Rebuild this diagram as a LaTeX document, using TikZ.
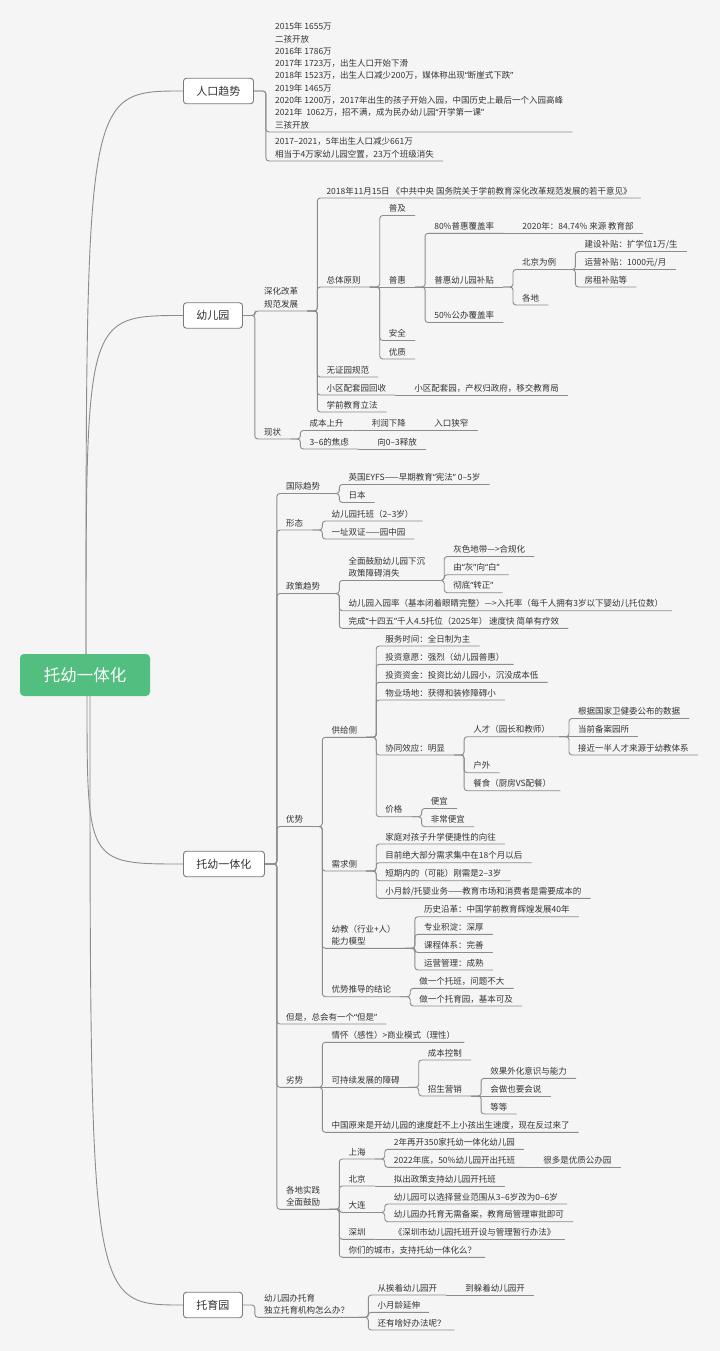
\documentclass[tikz,border=0pt]{standalone}
\usepackage{fontspec}
\setmainfont{Noto Sans CJK SC}
\newfontfamily\mmlatin{Noto Sans}
\definecolor{bg}{HTML}{F5F5F5}
\definecolor{ln}{HTML}{8C8C8C}
\definecolor{txt}{HTML}{333333}
\definecolor{bd}{HTML}{7A7A7A}
\definecolor{rootg}{HTML}{52BE80}
\newcommand\mmfont{\fontsize{8.5}{12.3}\selectfont}
\newcommand\mmql{{\mmlatin “}}
\newcommand\mmqr{{\mmlatin ”}}
\newcommand\mmkid[4]{\node[t,xshift=10pt] (#2) at (#1.south east |- 0,#3) {#4};
  \draw[conn] (#1.south east) -- ++(10,0) |- (#2.south east);}
\newcommand\mmcont[3]{\node[t,xshift=10pt] (#2) at (#1.south east) {#3};
  \draw[conn] (#1.south east) -- (#2.south east);}
\newcommand\mmboxkid[4]{\node[t,xshift=12pt] (#2) at (#1.east |- 0,#3) {#4};
  \draw[conn] (#1.east) -- ++(12,0) |- (#2.south east);}
\begin{document}
\begin{tikzpicture}[x=1pt,y=-1pt,
  t/.style={anchor=south west, inner xsep=9pt, inner ysep=0pt, font=\mmfont, text=txt,
    align=left, execute at begin node=\strut, execute at end node=\strut},
  conn/.style={draw=ln, line width=0.9pt, rounded corners=3pt},
  curve/.style={draw=ln, line width=0.9pt},
  mainbox/.style={anchor=west, draw=bd, fill=white, line width=0.9pt, rounded corners=3pt,
    inner xsep=13pt, minimum height=25.5pt, font=\fontsize{11}{13}\selectfont, text=txt},
  rootbox/.style={fill=rootg, rounded corners=4pt, minimum width=130pt, minimum height=42pt,
    font=\fontsize{16.5}{18}\selectfont, text=white}]
\useasboundingbox (0,0) rectangle (720,1351);
\fill[bg] (0,0) rectangle (720,1351);

% root and main branches
\node[rootbox] (root) at (85,675) {托幼一体化};
\node[mainbox] (P1) at (183,91) {人口趋势};
\node[mainbox] (P2) at (183,315.5) {幼儿园};
\node[mainbox] (P3) at (183,864) {托幼一体化};
\node[mainbox] (P4) at (183,1305) {托育园};
\coordinate (rt1) at ([xshift=1pt]root.north);
\coordinate (rb1) at ([xshift=2pt]root.south);
\coordinate (rb2) at ([xshift=5pt]root.south);
\draw[curve] (rt1) .. controls (rt1 |- P1.west) .. (P1.west);
\draw[curve] (rt1) .. controls (rt1 |- P2.west) .. (P2.west);
\draw[curve] (rb1) .. controls (rb1 |- P3.west) .. (P3.west);
\draw[curve] (rb2) .. controls (rb2 |- P4.west) .. (P4.west);

% ---------- 人口趋势
\mmboxkid{P1}{a1}{132}{2015年 1655万\\二孩开放\\2016年 1786万\\2017年 1723万，出生人口开始下滑\\2018年 1523万，出生人口减少200万，媒体称出现\mmql{}断崖式下跌\mmqr\\2019年 1465万\\2020年 1200万，2017年出生的孩子开始入园，中国历史上最后一个入园高峰\\2021年\ \ 1062万，招不满，成为民办幼儿园\mmql{}开学第一课\mmqr\\三孩开放}
\mmboxkid{P1}{a2}{161}{2017–2021，5年出生人口减少661万\\相当于4万家幼儿园空置，23万个班级消失}

% ---------- 幼儿园
\mmboxkid{P2}{b1}{311}{深化改革\\规范发展}
\mmboxkid{P2}{b2}{439}{现状}
\mmkid{b1}{c1}{198}{2018年11月15日 《中共中央 国务院关于学前教育深化改革规范发展的若干意见》}
\mmkid{b1}{c2}{287}{总体原则}
\mmkid{b1}{c3}{377}{无证园规范}
\mmkid{b1}{c4}{395}{小区配套园回收}
\mmkid{b1}{c5}{412}{学前教育立法}
\mmcont{c4}{c4a}{小区配套园，产权归政府，移交教育局}
\mmkid{c2}{d1}{215.5}{普及}
\mmcont{c2}{d2}{普惠}
\mmkid{c2}{d3}{340.5}{安全}
\mmkid{c2}{d4}{359}{优质}
\mmkid{d2}{e1}{233.3}{80\%普惠覆盖率}
\mmcont{d2}{e2}{普惠幼儿园补贴}
\mmkid{d2}{e3}{322.5}{50\%公办覆盖率}
\mmcont{e1}{f1}{2020年：84.74\% 来源 教育部}
\mmkid{e2}{f2}{269.5}{北京为例}
\mmkid{e2}{f3}{305}{各地}
\mmkid{f2}{g1}{251.5}{建设补贴：扩学位1万/生}
\mmcont{f2}{g2}{运营补贴：1000元/月}
\mmkid{f2}{g3}{287}{房租补贴等}
\mmkid{b2}{h1}{430.5}{成本上升}
\mmkid{b2}{h2}{449}{3–6的焦虑}
\mmcont{h1}{h1a}{利润下降}
\mmcont{h1a}{h1b}{入口狭窄}
\mmcont{h2}{h2a}{向0–3释放}

% ---------- 托幼一体化
\mmboxkid{P3}{i1}{493.5}{国际趋势}
\mmboxkid{P3}{i2}{530}{形态}
\mmboxkid{P3}{i3}{593.5}{政策趋势}
\mmboxkid{P3}{i4}{826.5}{优势}
\mmboxkid{P3}{i5}{1024}{但是，总会有一个\mmql{}但是\mmqr}
\mmboxkid{P3}{i6}{1087.3}{劣势}
\mmboxkid{P3}{i7}{1209.3}{各地实践\\全面鼓励}
\mmkid{i1}{i1a}{484.5}{英国EYFS——早期教育\mmql{}宪法\mmqr{} 0–5岁}
\mmkid{i1}{i1b}{502.5}{日本}
\mmkid{i2}{i2a}{521}{幼儿园托班（2–3岁）}
\mmkid{i2}{i2b}{539}{一址双证——园中园}
\mmkid{i3}{i3a}{580.5}{全面鼓励幼儿园下沉\\政策障碍消失}
\mmkid{i3}{i3b}{610.7}{幼儿园入园率（基本闭着眼睛完整）—>入托率（每千人拥有3岁以下婴幼儿托位数）}
\mmkid{i3}{i3c}{628.3}{完成\mmql{}十四五\mmqr{}千人4.5托位（2025年） 速度快 简单有疗效}
\mmkid{i3a}{i3a1}{556.5}{灰色地带—>合规化}
\mmkid{i3a}{i3a2}{574.7}{由\mmql{}灰\mmqr{}向\mmql{}白\mmqr}
\mmkid{i3a}{i3a3}{592.7}{彻底\mmql{}转正\mmqr}
% 优势
\mmkid{i4}{j1}{737.3}{供给侧}
\mmkid{i4}{j2}{871}{需求侧}
\mmkid{i4}{j3}{948.3}{幼教（行业+人）\\能力模型}
\mmkid{i4}{j4}{996.7}{优势推导的结论}
\mmkid{j1}{k1}{646}{服务时间：全日制为主}
\mmkid{j1}{k2}{664.3}{投资意愿：强烈（幼儿园普惠）}
\mmkid{j1}{k3}{682.3}{投资资金：投资比幼儿园小，沉没成本低}
\mmkid{j1}{k4}{700}{物业场地：获得和装修障碍小}
\mmkid{j1}{k5}{755}{协同效应：明显}
\mmkid{j1}{k6}{816.7}{价格}
\mmkid{k5}{l1}{736.7}{人才（园长和教师）}
\mmkid{k5}{l2}{772.7}{户外}
\mmkid{k5}{l3}{790.7}{餐食（厨房VS配餐）}
\mmkid{l1}{m1}{718.5}{根据国家卫健委公布的数据}
\mmcont{l1}{m2}{当前备案园所}
\mmkid{l1}{m3}{755}{接近一半人才来源于幼教体系}
\mmkid{k6}{n1}{808.5}{便宜}
\mmkid{k6}{n2}{826.7}{非常便宜}
\mmkid{j2}{p1}{844}{家庭对孩子升学便捷性的向往}
\mmkid{j2}{p2}{862.7}{目前绝大部分需求集中在18个月以后}
\mmkid{j2}{p3}{880.7}{短期内的（可能）刚需是2–3岁}
\mmkid{j2}{p4}{898.3}{小月龄/托婴业务——教育市场和消费者是需要成本的}
\mmkid{j3}{w1}{916.7}{历史沿革：中国学前教育辉煌发展40年}
\mmkid{j3}{w2}{934.3}{专业积淀：深厚}
\mmkid{j3}{w3}{952.5}{课程体系：完善}
\mmkid{j3}{w4}{970}{运营管理：成熟}
\mmkid{j4}{x1}{988.3}{做一个托班，问题不大}
\mmkid{j4}{x2}{1006}{做一个托育园，基本可及}
% 劣势
\mmkid{i6}{q1}{1042.3}{情怀（感性）>商业模式（理性）}
\mmcont{i6}{q2}{可持续发展的障碍}
\mmkid{i6}{q3}{1132.3}{中国原来是开幼儿园的速度赶不上小孩出生速度，现在反过来了}
\mmkid{q2}{r1}{1060}{成本控制}
\mmkid{q2}{r2}{1096}{招生营销}
\mmkid{r2}{s1}{1078.3}{效果外化意识与能力}
\mmcont{r2}{s2}{会做也要会说}
\mmkid{r2}{s3}{1114}{等等}
% 各地实践
\mmkid{i7}{u1}{1159}{上海}
\mmkid{i7}{u2}{1186}{北京}
\mmkid{i7}{u3}{1212.5}{大连}
\mmkid{i7}{u4}{1239.3}{深圳}
\mmkid{i7}{u5}{1257.3}{你们的城市，支持托幼一体化么？}
\mmkid{u1}{u1a}{1149.3}{2年再开350家托幼一体化幼儿园}
\mmkid{u1}{u1b}{1167.3}{2022年底，50\%幼儿园开出托班}
\mmcont{u1b}{u1c}{很多是优质公办园}
\mmcont{u2}{u2a}{拟出政策支持幼儿园开托班}
\mmkid{u3}{u3a}{1204}{幼儿园可以选择营业范围从3–6岁改为0–6岁}
\mmkid{u3}{u3b}{1221.7}{幼儿园办托育无需备案，教育局管理审批即可}
\mmcont{u4}{u4a}{《深圳市幼儿园托班开设与管理暂行办法》}

% ---------- 托育园
\mmboxkid{P4}{o1}{1317.3}{幼儿园办托育\\独立托育机构怎么办？}
\mmkid{o1}{v1}{1295}{从挨着幼儿园开}
\mmkid{o1}{v2}{1312.3}{小月龄延伸}
\mmkid{o1}{v3}{1330}{还有啥好办法呢？}
\mmcont{v1}{v1a}{到躲着幼儿园开}
\end{tikzpicture}
\end{document}
